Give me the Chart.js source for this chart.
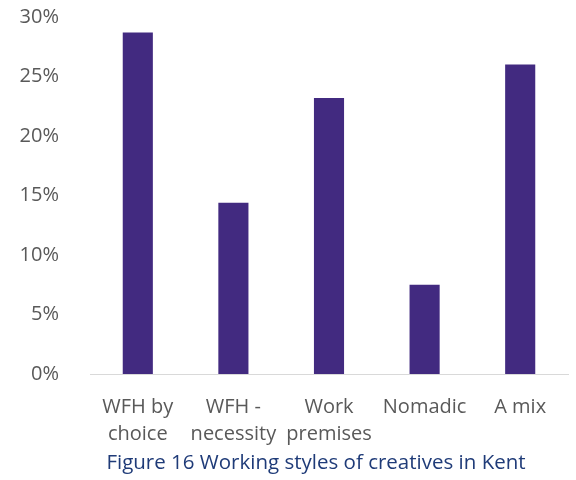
<!DOCTYPE html>
<html>
<head>
<meta charset="utf-8">
<script src="https://cdn.jsdelivr.net/npm/chart.js@4/dist/chart.umd.min.js"></script>
<style>
  html, body { margin: 0; padding: 0; background: #fff; }
  #wrap { width: 576px; height: 480px; }
</style>
</head>
<body>
<div id="wrap"><canvas id="stylesChart" width="576" height="480"></canvas></div>
<script>
// Share of respondents by working style (%)
const categories = [['WFH by', 'choice'], ['WFH -', 'necessity'], ['Work', 'premises'], 'Nomadic', 'A mix'];
const shares = [28.7, 14.4, 23.2, 7.5, 26.0];
const yTicks = [0, 5, 10, 15, 20, 25, 30];
const caption = 'Figure 16 Working styles of creatives in Kent';

const fontFamily = '"Open Sans", "DejaVu Sans", sans-serif';

// caption under the axis labels
const captionPlugin = {
    id: 'caption',
    afterDraw(chart) {
        const ctx = chart.ctx;
        ctx.save();
        ctx.font = '20.5px ' + fontFamily;
        ctx.fillStyle = '#1F3B78';
        ctx.textAlign = 'center';
        ctx.textBaseline = 'middle';
        ctx.fillText(caption, 316, 463);
        ctx.restore();
    }
};

new Chart(document.getElementById('stylesChart'), {
    type: 'bar',
    data: {
        labels: categories,
        datasets: [{
            data: shares,
            backgroundColor: '#422A80',
            barPercentage: 0.63,
            categoryPercentage: 0.5
        }]
    },
    options: {
        responsive: false,
        animation: false,
        layout: { padding: { top: 17, right: 8, left: 0, bottom: 0 } },
        plugins: {
            legend: { display: false },
            tooltip: { enabled: false }
        },
        scales: {
            x: {
                grid: { display: false },
                border: { color: '#D9D9D9', width: 1 },
                ticks: {
                    color: '#595959',
                    font: { family: fontFamily, size: 20, lineHeight: 1.35 },
                    padding: 12,
                    maxRotation: 0,
                    autoSkip: false
                },
                afterFit(scale) { scale.height = 106; }
            },
            y: {
                min: 0,
                max: 30,
                afterBuildTicks(scale) { scale.ticks = yTicks.map(v => ({ value: v })); },
                grid: { display: false },
                border: { display: false },
                ticks: {
                    color: '#595959',
                    font: { family: fontFamily, size: 20 },
                    padding: 23,
                    callback: v => v + '%'
                },
                afterFit(scale) {
                    scale.width = 90;
                    scale.paddingTop = 0;
                    scale.paddingBottom = 0;
                }
            }
        }
    },
    plugins: [captionPlugin]
});
</script>
</body>
</html>
